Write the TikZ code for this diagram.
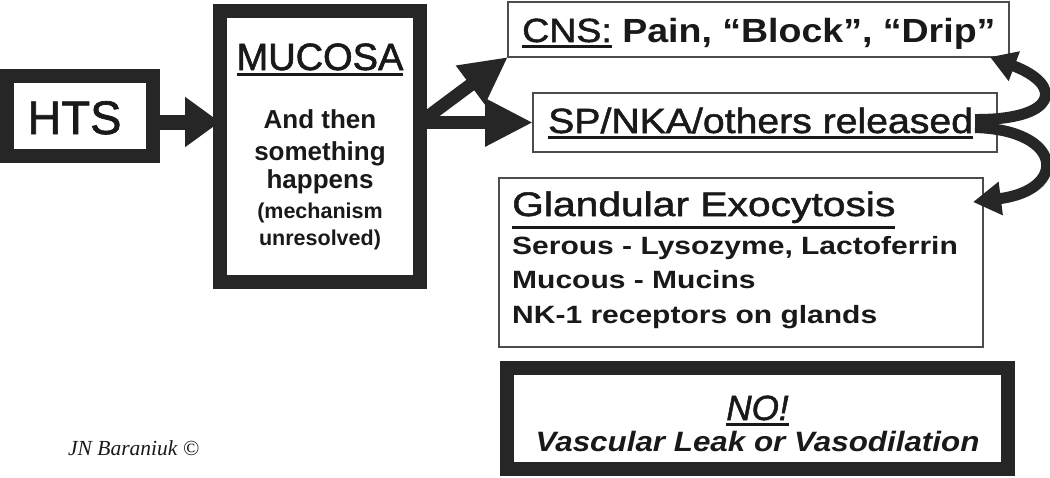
\documentclass[tikz,border=0pt]{standalone}
\usepackage{fontspec}
\setmainfont{Liberation Sans}
\newfontfamily\widefont{Liberation Sans}[FakeStretch=1.12]
\newfontfamily\glandfont{Liberation Sans}[FakeStretch=1.2]
\newfontfamily\titlefont{Liberation Sans}[FakeStretch=1.12,FakeBold=1.5]
\newfontfamily\glandtitlefont{Liberation Sans}[FakeStretch=1.2,FakeBold=1.5]
\newfontfamily\heavyfont{Liberation Sans}[FakeBold=1.5]
\newfontfamily\signfont{Liberation Serif}
\usetikzlibrary{arrows.meta}

\newcommand{\ulthick}[1]{\vtop{\hbox{#1}\kern2.5pt\hrule height 3.5pt}}

\tikzset{
  thickbox/.style={draw=black!85, line width=14pt, fill=white, inner sep=0pt, outer sep=0pt},
  thinbox/.style={draw=black!70, line width=1.5pt, fill=white, inner sep=0pt, outer sep=0pt},
  txt/.style={inner sep=0pt, text=black!90},
  fat/.style={draw=black!85, line width=#1},
}

\begin{document}
\begin{tikzpicture}[x=1pt,y=-1pt]
\useasboundingbox (0,0) rectangle (1050,477);

% boxes
\node [thickbox, minimum width=146, minimum height=80] (hts) at (79.5,116) {};
\node [thickbox, minimum width=200, minimum height=271] (mucosa) at (320,146.5) {};
\node [thinbox, minimum width=501, minimum height=55] (cns) at (758.5,29.5) {};
\node [thinbox, minimum width=464, minimum height=59] (sp) at (765,122.5) {};
\node [thinbox, minimum width=484, minimum height=169] (gland) at (741,262.5) {};
\node [thickbox, minimum width=501, minimum height=101] (no) at (757.5,418.5) {};

% texts
\node [txt, anchor=base] (htstext) at (74.5,134) {\heavyfont\fontsize{47}{50}\selectfont HTS};
\node [txt, anchor=base] (mucosatitle) at (320,70) {\heavyfont\fontsize{38}{40}\selectfont\ulthick{MUCOSA}};
\node [txt, anchor=base] (and) at (320,128) {\fontsize{26}{28}\selectfont\bfseries And then};
\node [txt, anchor=base] (something) at (320,160) {\fontsize{26}{28}\selectfont\bfseries something};
\node [txt, anchor=base] (happens) at (320,188) {\fontsize{26}{28}\selectfont\bfseries happens};
\node [txt, anchor=base] (mech) at (320,218) {\fontsize{21.5}{24}\selectfont\bfseries (mechanism};
\node [txt, anchor=base] (unres) at (320,245) {\fontsize{21.5}{24}\selectfont\bfseries unresolved)};
\node [txt, anchor=base west] (cnstext) at (522,42) {\widefont\fontsize{33.5}{38}\selectfont\ulthick{\titlefont CNS:} \bfseries Pain, “Block”, “Drip”};
\node [txt, anchor=base west] (sptext) at (548,133) {\titlefont\fontsize{35}{38}\selectfont\ulthick{SP/NKA/others released}};
\node [txt, anchor=base west] (glandtitle) at (512,216) {\glandtitlefont\fontsize{34}{38}\selectfont\ulthick{Glandular Exocytosis}};
\node [txt, anchor=base west] (serous) at (512,254) {\glandfont\fontsize{25}{28}\selectfont\bfseries Serous - Lysozyme, Lactoferrin};
\node [txt, anchor=base west] (mucous) at (512,288.5) {\glandfont\fontsize{25}{28}\selectfont\bfseries Mucous - Mucins};
\node [txt, anchor=base west] (nk) at (512,323) {\glandfont\fontsize{25}{28}\selectfont\bfseries NK-1 receptors on glands};
\node [txt, anchor=base] (notext) at (757.5,420) {\heavyfont\fontsize{35}{38}\selectfont\itshape\ulthick{NO!}};
\node [txt, anchor=base] (vasc) at (757.5,451) {\widefont\fontsize{28}{30}\selectfont\bfseries\itshape Vascular Leak or Vasodilation};
\node [txt, anchor=base west] (sign) at (68,455) {\signfont\itshape\fontsize{21.5}{24}\selectfont JN Baraniuk ©};

% arrows
\draw [fat=15pt, -{Triangle[length=35pt,width=48pt]}] ([yshift=-6pt]hts.east) -- ([yshift=-6pt]hts.east -| mucosa.west);
\draw [fat=13pt, -{Triangle[length=48pt,width=45pt]}] (mucosa.east |- sp.west) -- (sp.west);
\draw [fat=13pt, -{Triangle[length=47pt,width=45pt]}] (mucosa.east |- sp.west) -- (cns.south west);
\draw [fat=11pt, -{Triangle[length=26pt,width=30pt]}] ([xshift=-22pt,yshift=3pt]sp.east) .. controls (1058,120) and (1064,85) .. ([xshift=-19pt]cns.south east);
\draw [fat=11pt, -{Triangle[length=28pt,width=32pt]}] ([xshift=-22pt,yshift=-5pt]sp.east) .. controls (1064,130) and (1068,190) .. ([xshift=-10pt,yshift=-24pt]gland.north east);
\end{tikzpicture}
\end{document}
